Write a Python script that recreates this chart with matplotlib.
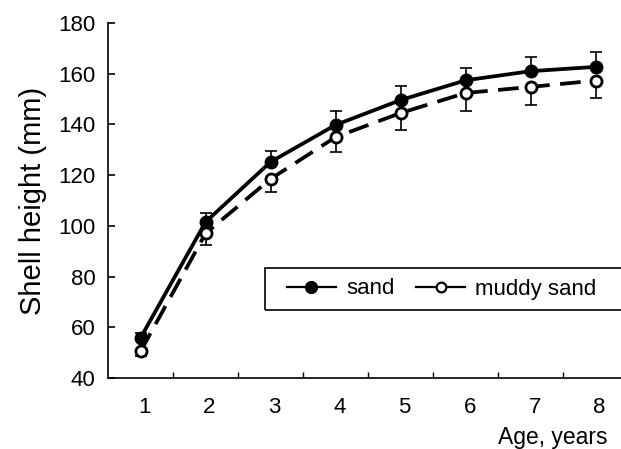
import numpy as np
import matplotlib.pyplot as plt
import matplotlib.transforms as mtransforms
from matplotlib.lines import Line2D
from matplotlib.patches import Rectangle

plt.rcParams['font.family'] = ['Liberation Sans', 'DejaVu Sans']

ages = [1, 2, 3, 4, 5, 6, 7, 8]
sand = [55.8, 101.5, 125.2, 139.8, 149.6, 157.4, 161.0, 162.7]
sand_err = [2.0, 3.5, 4.5, 5.5, 5.5, 5.0, 5.5, 6.0]
muddy = [50.5, 97.0, 118.5, 135.0, 144.5, 152.4, 154.8, 157.3]
muddy_err = [2.0, 4.5, 5.0, 6.0, 6.5, 7.0, 7.0, 7.0]

fig = plt.figure(figsize=(6.21, 4.49), dpi=100)
ax = fig.add_axes([108/621, 71/449, 513/621, 355/449])

x = np.array(ages)
# one-sided error bars: sand upward, muddy sand downward
ax.errorbar(x, sand, yerr=[np.zeros(len(sand)), sand_err], fmt='none',
            ecolor='black', elinewidth=1.2, capsize=4, capthick=1.2, zorder=2)
ax.errorbar(x, muddy, yerr=[muddy_err, np.zeros(len(muddy))], fmt='none',
            ecolor='black', elinewidth=1.2, capsize=4, capthick=1.2, zorder=2)

ax.plot(x, sand, color='black', lw=2.7, marker='o', ms=9,
        mfc='black', mec='black', zorder=3)
ax.plot(x, muddy, color='black', lw=2.7, ls=(0, (5.5, 2.8)), marker='o', ms=8,
        mfc='white', mec='black', mew=2, zorder=4)

ax.set_xlim(0.5, 8.39)
ax.set_ylim(40, 180)
ax.set_yticks(np.arange(40, 181, 20))
ax.set_xticks(x)
ax.set_xticklabels([str(a) for a in ages])
ax.set_xticks(np.arange(1.5, 8, 1), minor=True)
ax.tick_params(axis='x', which='major', length=0, pad=14, labelsize=16)
ax.tick_params(axis='x', which='minor', direction='in', length=4, width=1)
ax.tick_params(axis='y', direction='in', length=5, width=1.2, pad=9, labelsize=16)
shift = mtransforms.ScaledTranslation(4/100, 0, fig.dpi_scale_trans)
for lab in ax.get_xticklabels():
    lab.set_transform(lab.get_transform() + shift)
ax.spines['top'].set_visible(False)
ax.spines['right'].set_visible(False)
ax.spines['left'].set_linewidth(1.2)
ax.spines['bottom'].set_linewidth(1.2)

ax.set_ylabel('Shell height (mm)', fontsize=21, labelpad=8)
fig.text(607/621, 1 - 444/449, 'Age, years', fontsize=16.5, ha='right', va='baseline')

# legend
handles = [
    Line2D([], [], color='black', lw=1.6, marker='o', ms=8.5, mfc='black'),
    Line2D([], [], color='black', lw=1.6, marker='o', ms=7, mfc='white', mew=1.6),
]
fig.legend(handles, ['sand', 'muddy sand'], ncol=2, frameon=False, fontsize=16,
           loc='center left', bbox_to_anchor=(287/621, 1 - 289/449),
           handlelength=2.2, handletextpad=0.45, columnspacing=1.0, borderpad=0,
           borderaxespad=0)
fig.patches.append(Rectangle((265/621, 1 - 310/449), 0.6, 42/449,
                             transform=fig.transFigure, fill=False,
                             edgecolor='black', lw=1.2))

fig.savefig('out.png', dpi=100)
